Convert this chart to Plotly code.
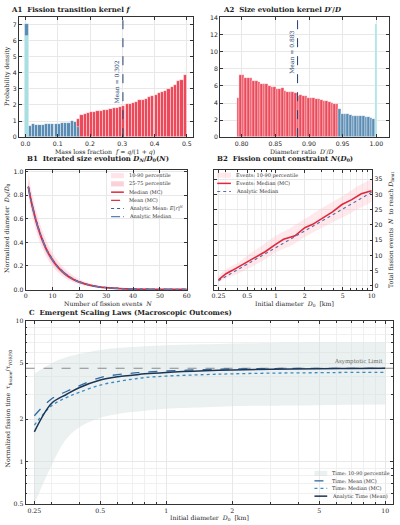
import numpy as np
import plotly.graph_objects as go

# ---------------- DATA ----------------
# A1: mass-loss-fraction kernel histogram (bin width 0.01)
a1_width = 0.0098
a1_spike_x = [0.004]
a1_spike_cyan = [6.3]
a1_spike_blue = [7.05]
a1_blue_x = [0.014 + 0.01 * k for k in range(15)]
a1_blue = [0.68, 0.80, 0.75, 0.75, 0.78, 0.80, 0.82, 0.85, 0.83, 0.86, 0.88, 0.90, 0.92, 1.02, 0.98]
a1_mixed_x = [0.164]
a1_mixed_red = [1.15]
a1_mixed_blue = [0.65]
a1_red_x = [0.174 + 0.01 * k for k in range(33)]
a1_red = [1.40, 1.47, 1.52, 1.58, 1.60, 1.62, 1.66, 1.68, 1.72, 1.78, 1.82, 1.80, 1.88,
          1.95, 2.05, 2.08, 2.15, 2.20, 2.32, 2.30, 2.40, 2.48, 2.58, 2.62, 2.75, 2.82,
          2.90, 3.00, 3.12, 3.28, 3.48, 3.58, 3.85]
a1_mean = 0.302

# A2: diameter-ratio kernel histogram
a2_width = 0.00388
a2_red_x = [0.7946 + a2_width * k for k in range(39)]
a2_red = [4.65, 7.30, 7.25, 6.95, 6.95, 6.90, 6.60, 6.55, 6.50, 6.30, 6.20, 6.25, 6.05,
          5.95, 5.90, 5.70, 5.65, 5.75, 5.40, 5.35, 5.35, 5.30, 5.15, 4.90, 4.95, 4.85,
          4.80, 4.65, 4.60, 4.60, 4.45, 4.50, 4.35, 4.25, 4.25, 4.10, 4.05, 3.95, 3.90]
a2_blue_x = [0.7946 + a2_width * (39 + k) for k in range(14)]
a2_blue = [3.30, 2.70, 2.70, 2.70, 2.60, 2.55, 2.55, 2.50, 2.45, 2.50, 2.40, 2.35, 2.30, 2.15]
a2_spike_x = [0.9997]
a2_spike = [13.3]
a2_mean = 0.883

# B1: iterated size evolution
b1_N = [1, 2, 3, 4, 5, 6, 8, 10, 12, 15, 18, 20, 25, 30, 35, 40, 50, 60]
b1_median = [0.870, 0.757, 0.659, 0.573, 0.498, 0.434, 0.328, 0.250, 0.190, 0.126, 0.083,
             0.063, 0.032, 0.016, 0.008, 0.004, 0.001, 0.0003]
b1_mean = [0.873, 0.761, 0.663, 0.578, 0.503, 0.438, 0.332, 0.254, 0.193, 0.129, 0.085,
           0.065, 0.033, 0.017, 0.009, 0.0045, 0.0012, 0.0004]
b1_p10 = [0.800, 0.675, 0.575, 0.490, 0.420, 0.360, 0.265, 0.196, 0.146, 0.094, 0.060,
          0.045, 0.022, 0.011, 0.005, 0.0025, 0.0006, 0.0002]
b1_p90 = [0.995, 0.860, 0.755, 0.665, 0.585, 0.515, 0.400, 0.312, 0.243, 0.167, 0.114,
          0.088, 0.046, 0.024, 0.013, 0.0066, 0.0018, 0.0005]
b1_p25 = [0.835, 0.715, 0.618, 0.532, 0.460, 0.398, 0.298, 0.223, 0.168, 0.110, 0.071,
          0.054, 0.027, 0.013, 0.0066, 0.0033, 0.0008, 0.0002]
b1_p75 = [0.920, 0.805, 0.705, 0.618, 0.540, 0.473, 0.362, 0.279, 0.215, 0.145, 0.097,
          0.074, 0.038, 0.020, 0.010, 0.0052, 0.0014, 0.0004]

# B2: fission count constraint
b2_D = [0.25, 0.30, 0.35, 0.42, 0.50, 0.63, 0.77, 1.0, 1.2, 1.58, 2.0, 2.42, 3.06, 3.9,
        4.9, 6.2, 7.8, 10.0]
b2_median = [2.0, 4.0, 5.1, 6.5, 7.8, 9.4, 11.2, 13.7, 15.3, 16.4, 19.1, 20.2, 22.1, 24.3,
             26.7, 28.3, 30.2, 31.2]
b2_band_D = [0.25, 0.30, 0.40, 0.50, 0.70, 1.0, 1.5, 2.0, 3.0, 5.0, 7.0, 10.0]
b2_p10 = [1.0, 2.5, 4.0, 5.5, 8.0, 11.0, 13.5, 16.0, 19.0, 22.5, 25.0, 27.5]
b2_p90 = [3.0, 5.5, 7.5, 10.0, 13.0, 16.5, 19.5, 22.0, 25.5, 29.5, 32.5, 35.0]
b2_an_D = [0.25, 0.5, 1.0, 2.0, 5.0, 10.0]
b2_analytic = [1.7, 7.1, 12.6, 18.0, 25.2, 30.7]

# C: emergent scaling laws
c_D = [0.25, 0.30, 0.35, 0.40, 0.50, 0.60, 0.70, 0.80, 1.0, 1.5, 2.0, 3.0, 5.0, 7.0, 10.0]
c_analytic = [1.63, 2.60, 3.00, 3.35, 3.80, 4.00, 4.10, 4.20, 4.30, 4.42, 4.48, 4.53, 4.57, 4.58, 4.60]
c_mean = [2.12, 2.80, 3.15, 3.45, 3.95, 4.15, 4.25, 4.32, 4.40, 4.50, 4.55, 4.58, 4.60, 4.60, 4.60]
c_median = [1.82, 2.50, 2.85, 3.10, 3.50, 3.70, 3.85, 3.95, 4.05, 4.15, 4.20, 4.25, 4.28, 4.30, 4.30]
c_p10 = [0.50, 0.95, 1.45, 1.75, 2.05, 2.18, 2.25, 2.30, 2.38, 2.44, 2.48, 2.50, 2.52, 2.54, 2.55]
c_p90 = [4.20, 5.00, 5.50, 5.80, 6.20, 6.40, 6.50, 6.60, 6.70, 6.80, 6.90, 6.95, 7.00, 7.00, 7.00]
c_asymptote = 4.6

# ---------------- STYLE ----------------
RED = "#ec4a5a"
BLUE = "#5a8cb4"
CYAN = "#a6e0e2"
NAVY = "#22406e"
LRED = "#e0283c"
AN_MEAN = "#3d5a99"
AN_MED = "#5b7fb8"
SERIF = "DejaVu Serif"
SANS = "DejaVu Sans"
W, H = 400, 525

B1_BAND1 = "rgba(255,192,203,0.45)"
B1_BAND2 = "rgba(245,150,170,0.45)"
B2_BAND = "rgba(255,192,203,0.35)"
C_BAND = "rgba(210,225,222,0.45)"


def px_x(p):
    return p / W


def px_y(p):
    return 1 - p / H


fig = go.Figure()
edge = dict(color="white", width=0.4)


def bar(x, y, w, color, xa, ya):
    fig.add_bar(x=x, y=y, width=w, marker=dict(color=color, line=edge), xaxis=xa, yaxis=ya,
                showlegend=False)


# A1 bars
bar(a1_spike_x, a1_spike_blue, a1_width, BLUE, "x", "y")
bar(a1_spike_x, a1_spike_cyan, a1_width, CYAN, "x", "y")
bar(a1_blue_x, a1_blue, a1_width, BLUE, "x", "y")
bar(a1_mixed_x, a1_mixed_red, a1_width, RED, "x", "y")
bar(a1_mixed_x, a1_mixed_blue, a1_width, BLUE, "x", "y")
bar(a1_red_x, a1_red, a1_width, RED, "x", "y")
fig.add_scatter(x=[a1_mean, a1_mean], y=[0, 7.47], mode="lines", line=dict(color=NAVY, dash="dash", width=1),
                xaxis="x", yaxis="y", showlegend=False)

# A2 bars
bar(a2_red_x, a2_red, a2_width, RED, "x2", "y2")
bar(a2_blue_x, a2_blue, a2_width, BLUE, "x2", "y2")
bar(a2_spike_x, a2_spike, a2_width, CYAN, "x2", "y2")
fig.add_scatter(x=[a2_mean, a2_mean], y=[0, 14.1], mode="lines", line=dict(color=NAVY, dash="dash", width=1),
                xaxis="x2", yaxis="y2", showlegend=False)

nol = dict(showlegend=False)

# B1
fig.add_scatter(x=b1_N, y=b1_p90, mode="lines", line=dict(width=0, shape="spline"), xaxis="x3", yaxis="y3", hoverinfo="skip", **nol)
fig.add_scatter(x=b1_N, y=b1_p10, mode="lines", line=dict(width=0, shape="spline"), fill="tonexty", fillcolor=B1_BAND1, xaxis="x3", yaxis="y3", **nol)
fig.add_scatter(x=b1_N, y=b1_p75, mode="lines", line=dict(width=0, shape="spline"), xaxis="x3", yaxis="y3", hoverinfo="skip", **nol)
fig.add_scatter(x=b1_N, y=b1_p25, mode="lines", line=dict(width=0, shape="spline"), fill="tonexty", fillcolor=B1_BAND2, xaxis="x3", yaxis="y3", **nol)
fig.add_scatter(x=b1_N, y=b1_median, mode="lines", line=dict(color=LRED, width=1.8, shape="spline"), xaxis="x3", yaxis="y3", **nol)
fig.add_scatter(x=b1_N, y=b1_mean, mode="lines", line=dict(color=LRED, width=1.3, dash="dash", shape="spline"), xaxis="x3", yaxis="y3", **nol)
fig.add_scatter(x=b1_N, y=b1_mean, mode="lines", line=dict(color=AN_MEAN, width=1.3, dash="dot", shape="spline"), xaxis="x3", yaxis="y3", **nol)
fig.add_scatter(x=b1_N, y=b1_median, mode="lines", line=dict(color=AN_MED, width=1.2, dash="dashdot", shape="spline"), xaxis="x3", yaxis="y3", **nol)

# B2
fig.add_scatter(x=b2_band_D, y=b2_p90, mode="lines", line=dict(width=0, shape="spline"), xaxis="x4", yaxis="y4", hoverinfo="skip", **nol)
fig.add_scatter(x=b2_band_D, y=b2_p10, mode="lines", line=dict(width=0, shape="spline"), fill="tonexty", fillcolor=B2_BAND, xaxis="x4", yaxis="y4", **nol)
fig.add_scatter(x=b2_D, y=b2_median, mode="lines", line=dict(color=LRED, width=1.6), xaxis="x4", yaxis="y4", **nol)
fig.add_scatter(x=b2_an_D, y=b2_analytic, mode="lines", line=dict(color="#5a6fa8", width=1.1, dash="dot"), xaxis="x4", yaxis="y4", **nol)

# C
fig.add_scatter(x=c_D, y=c_p90, mode="lines", line=dict(width=0, shape="spline"), xaxis="x5", yaxis="y5", hoverinfo="skip", **nol)
fig.add_scatter(x=c_D, y=c_p10, mode="lines", line=dict(width=0, shape="spline"), fill="tonexty", fillcolor=C_BAND, xaxis="x5", yaxis="y5", **nol)
fig.add_scatter(x=[0.228, 10.86], y=[c_asymptote, c_asymptote], mode="lines", line=dict(color="#8a8a8a", width=1.1, dash="dash"), xaxis="x5", yaxis="y5", **nol)
fig.add_scatter(x=c_D, y=c_mean, mode="lines", line=dict(color="#2f6a9f", width=1.3, dash="dash", shape="spline"), xaxis="x5", yaxis="y5", **nol)
fig.add_scatter(x=c_D, y=c_median, mode="lines", line=dict(color="#3a8cc0", width=1.3, dash="dot", shape="spline"), xaxis="x5", yaxis="y5", **nol)
fig.add_scatter(x=c_D, y=c_analytic, mode="lines", line=dict(color="#1d3557", width=1.5, shape="spline"), xaxis="x5", yaxis="y5", **nol)

TF = 6.2
tickfont = dict(family=SANS, size=TF, color="#222")
serif_tf = dict(family=SERIF, size=TF, color="#222")
base = dict(showline=True, linecolor="#333", linewidth=0.8, mirror="allticks", ticks="inside",
            ticklen=3, tickwidth=0.6, tickcolor="#333", showgrid=True, gridcolor="#e8e8e8",
            gridwidth=0.5, zeroline=False, tickfont=tickfont)

minor_log_x = [0.3, 0.4, 0.6, 0.7, 0.8, 0.9, 3, 4, 6, 7, 8, 9]
minor_log_y = [0.6, 0.7, 0.8, 0.9, 3, 4, 6, 7, 8, 9]
minor_style = dict(ticks="inside", ticklen=2, tickcolor="#333", showgrid=True, gridcolor="#f0f0f0")

fig.update_layout(
    width=W, height=H, margin=dict(l=0, r=0, t=0, b=0), paper_bgcolor="white", plot_bgcolor="white",
    barmode="overlay", bargap=0, showlegend=False,
    xaxis=dict(base, domain=[px_x(16), px_x(193)], range=[-0.021, 0.518],
               tickvals=[0, 0.1, 0.2, 0.3, 0.4, 0.5], ticktext=["0.0", "0.1", "0.2", "0.3", "0.4", "0.5"], anchor="y"),
    yaxis=dict(base, domain=[px_y(135), px_y(13)], range=[0, 7.47], dtick=1, anchor="x"),
    xaxis2=dict(base, domain=[px_x(221), px_x(393)], range=[0.768, 1.019],
                tickvals=[0.80, 0.85, 0.90, 0.95, 1.00], ticktext=["0.80", "0.85", "0.90", "0.95", "1.00"], anchor="y2"),
    yaxis2=dict(base, domain=[px_y(135), px_y(13)], range=[0, 14.1], dtick=2, anchor="x2"),
    xaxis3=dict(base, domain=[px_x(23), px_x(187)], range=[0, 60], dtick=10, anchor="y3", tickfont=serif_tf),
    yaxis3=dict(base, domain=[px_y(290), px_y(168)], range=[-0.005, 1.015],
                tickvals=[0, 0.2, 0.4, 0.6, 0.8, 1.0], ticktext=["0.0", "0.2", "0.4", "0.6", "0.8", "1.0"], anchor="x3"),
    xaxis4=dict(base, domain=[px_x(215), px_x(376)], type="log", range=[np.log10(0.226), np.log10(10.2)],
                tickvals=[0.25, 0.5, 1, 2, 5, 10], ticktext=["0.25", "0.5", "1", "2", "5", "10"], anchor="y4",
                tickfont=serif_tf, minor=dict(minor_style, tickmode="array", tickvals=minor_log_x)),
    yaxis4=dict(base, domain=[px_y(290), px_y(168)], range=[-1.4, 38.1], dtick=5, side="right", anchor="x4"),
    xaxis5=dict(base, domain=[px_x(23), px_x(397)], type="log", range=[np.log10(0.228), np.log10(10.86)],
                tickvals=[0.25, 0.5, 1, 2, 5, 10], ticktext=["0.25", "0.5", "1", "2", "5", "10"], anchor="y5",
                tickfont=serif_tf, minor=dict(minor_style, tickmode="array", tickvals=minor_log_x)),
    yaxis5=dict(base, domain=[px_y(507), px_y(321)], type="log", range=[np.log10(0.5), 1],
                tickvals=[0.5, 1, 2, 5, 10], ticktext=["0.5", "1", "2", "5", "10"], anchor="x5",
                tickfont=serif_tf, minor=dict(minor_style, tickmode="array", tickvals=minor_log_y)),
)

ann = []
shapes = []


def label(text, x, y, size=7, bold=False, angle=0, xanchor="center", family=SERIF, color="#222"):
    t = f"<b>{text}</b>" if bold else text
    ann.append(dict(text=t, x=px_x(x), y=px_y(y), xref="paper", yref="paper", showarrow=False,
                    xanchor=xanchor, yanchor="middle", textangle=angle,
                    font=dict(family=family, size=size, color=color)))


def legend_entry(x0, x1, y, text, kind, color, dash="solid", width=1.2):
    if kind == "rect":
        shapes.append(dict(type="rect", xref="paper", yref="paper", x0=px_x(x0), x1=px_x(x1),
                           y0=px_y(y + 2.6), y1=px_y(y - 2.6), fillcolor=color, line=dict(width=0)))
    else:
        shapes.append(dict(type="line", xref="paper", yref="paper", x0=px_x(x0), x1=px_x(x1),
                           y0=px_y(y), y1=px_y(y), line=dict(color=color, width=width, dash=dash)))
    label(text, x1 + 3, y, size=5.0, xanchor="left", color="#333")


# panel titles
label("A1  Fission transition kernel <i>f</i>", 6, 6, size=7, bold=True, xanchor="left")
label("A2  Size evolution kernel <i>D′</i>/<i>D</i>", 222, 6, size=7, bold=True, xanchor="left")
label("B1  Iterated size evolution <i>D<sub>N</sub></i>/<i>D</i><sub>0</sub>(<i>N</i>)", 22, 157, size=7, bold=True, xanchor="left")
label("B2  Fission count constraint <i>N</i>(<i>D</i><sub>0</sub>)", 216, 157, size=7, bold=True, xanchor="left")
label("C  Emergent Scaling Laws (Macroscopic Outcomes)", 24, 313, size=7, bold=True, xanchor="left")

# axis titles
label("Mass loss fraction  <i>f</i> = <i>q</i>/(1 + <i>q</i>)", 104, 149.5, size=6.2)
label("Probability density", 4, 73, size=6.2, angle=-90)
label("Diameter ratio  <i>D′</i>/<i>D</i>", 304, 149.5, size=6.2)
label("Number of fission events  <i>N</i>", 107, 304, size=6.2)
label("Normalized diameter  <i>D<sub>N</sub></i>/<i>D</i><sub>0</sub>", 4, 227, size=6.2, angle=-90)
label("Initial diameter  <i>D</i><sub>0</sub>  [km]", 297, 304.5, size=6.2)
label("Total fission events  <i>N</i>  to reach <i>D</i><sub>limit</sub>", 395, 229, size=6.2, angle=-90)
label("Initial diameter  <i>D</i><sub>0</sub>  [km]", 210, 520.5, size=6.2)
label("Normalized fission time  τ<sub>fission</sub>/τ<sub>YORP,0</sub>", 5, 410, size=6.2, angle=-90)

# mean labels and asymptote label
ann.append(dict(text="Mean = 0.302", x=a1_mean, y=3.45, xref="x", yref="y", showarrow=False, textangle=-90,
                xanchor="right", xshift=-0.5, font=dict(family=SERIF, size=6, color=NAVY)))
ann.append(dict(text="Mean = 0.883", x=a2_mean, y=9.95, xref="x2", yref="y2", showarrow=False, textangle=-90,
                xanchor="right", xshift=-0.5, font=dict(family=SERIF, size=6, color=NAVY)))
ann.append(dict(text="Asymptotic Limit", x=np.log10(10.0), y=np.log10(c_asymptote), xref="x5", yref="y5",
                showarrow=False, xanchor="right", yanchor="bottom", yshift=1,
                font=dict(family=SERIF, size=5.5, color="#666")))

# legends (compact, drawn as shapes + text)
legend_entry(110, 123, 174.0, "10-90 percentile", "rect", B1_BAND1)
legend_entry(110, 123, 182.3, "25-75 percentile", "rect", B1_BAND2)
legend_entry(110, 123, 190.7, "Median (MC)", "line", LRED, width=1.5)
legend_entry(110, 123, 199.0, "Mean (MC)", "line", LRED, dash="dash", width=1.2)
legend_entry(110, 123, 207.3, "Analytic Mean: <i>E</i>[<i>r</i>]<sup><i>N</i></sup>", "line", AN_MEAN, dash="dot", width=1.1)
legend_entry(110, 123, 215.5, "Analytic Median", "line", AN_MED, dash="dashdot", width=1.1)

legend_entry(218, 232, 173.5, "Events: 10-90 percentile", "rect", B2_BAND)
legend_entry(218, 232, 181.8, "Events: Median (MC)", "line", LRED, width=1.5)
legend_entry(218, 232, 190.1, "Analytic Median", "line", "#5a6fa8", dash="dot", width=1.1)

legend_entry(317, 330, 475.7, "Time: 10-90 percentile", "rect", C_BAND)
legend_entry(317, 330, 483.3, "Time: Mean (MC)", "line", "#2f6a9f", dash="dash", width=1.3)
legend_entry(317, 330, 491.0, "Time: Median (MC)", "line", "#3a8cc0", dash="dot", width=1.3)
legend_entry(317, 330, 498.8, "Analytic Time (Mean)", "line", "#1d3557", width=1.5)

fig.update_layout(annotations=ann, shapes=shapes)
fig.write_html("out.html")
